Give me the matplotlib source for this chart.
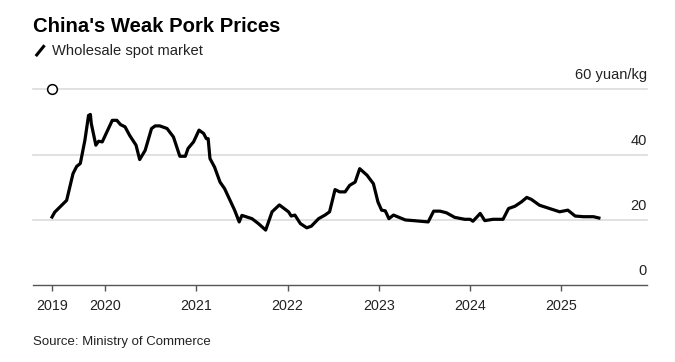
import matplotlib
matplotlib.use("Agg")
import matplotlib.pyplot as plt
from matplotlib.lines import Line2D
import matplotlib.transforms as mtransforms

plt.rcParams['font.family'] = ['Liberation Sans', 'DejaVu Sans']

# wholesale pork price, yuan/kg (decimal year, value)
t = [2019.42, 2019.45, 2019.58, 2019.65, 2019.69, 2019.73, 2019.78, 2019.82, 2019.84, 2019.85,
     2019.90, 2019.93, 2019.97, 2020.03, 2020.08, 2020.13, 2020.17, 2020.22, 2020.27, 2020.34,
     2020.38, 2020.44, 2020.51, 2020.55, 2020.60, 2020.68, 2020.75, 2020.82, 2020.88, 2020.91,
     2020.97, 2021.03, 2021.08, 2021.11, 2021.13, 2021.15, 2021.20, 2021.26, 2021.31, 2021.37,
     2021.42, 2021.47, 2021.50, 2021.61, 2021.68, 2021.76, 2021.83, 2021.91, 2022.01, 2022.04,
     2022.08, 2022.14, 2022.21, 2022.26, 2022.34, 2022.41, 2022.46, 2022.52, 2022.57, 2022.63,
     2022.68, 2022.74, 2022.79, 2022.87, 2022.94, 2022.99, 2023.03, 2023.07, 2023.11, 2023.16,
     2023.29, 2023.38, 2023.54, 2023.60, 2023.67, 2023.74, 2023.83, 2023.94, 2024.00, 2024.03,
     2024.07, 2024.11, 2024.16, 2024.25, 2024.36, 2024.42, 2024.49, 2024.56, 2024.62, 2024.67,
     2024.76, 2024.87, 2024.98, 2025.07, 2025.15, 2025.24, 2025.35, 2025.41]
price = [20.9, 22.4, 26.0, 34.2, 36.4, 37.3, 44.4, 52.0, 52.3, 49.5,
         42.9, 44.1, 43.9, 47.5, 50.5, 50.5, 49.2, 48.5, 45.9, 42.9,
         38.5, 41.3, 48.0, 48.8, 48.8, 48.0, 45.4, 39.5, 39.5, 41.9,
         43.9, 47.5, 46.5, 44.9, 44.9, 38.8, 36.2, 31.6, 29.6, 26.0,
         23.0, 19.4, 21.4, 20.4, 18.9, 16.9, 22.5, 24.6, 22.5, 21.2,
         21.5, 18.9, 17.6, 18.1, 20.4, 21.5, 22.5, 29.3, 28.6, 28.6,
         30.6, 31.6, 35.7, 33.7, 31.1, 25.5, 23.0, 22.8, 20.4, 21.5,
         20.0, 19.8, 19.4, 22.7, 22.7, 22.2, 20.8, 20.2, 20.2, 19.6,
         20.8, 22.0, 19.8, 20.2, 20.2, 23.5, 24.2, 25.5, 26.9, 26.3,
         24.5, 23.5, 22.5, 23.0, 21.2, 21.0, 21.0, 20.6]

xticks = [2019.42, 2020, 2021, 2022, 2023, 2024, 2025]
xlabels = ["2019", "2020", "2021", "2022", "2023", "2024", "2025"]
yticks = [0, 20, 40, 60]
ylabels = ["0", "20", "40", "60 yuan/kg"]

fig = plt.figure(figsize=(6.75, 3.62), dpi=100)
ax = fig.add_axes([0.0484, 0.2119, 0.9096, 0.5414])

ax.plot(t, price, color="black", lw=2.3, solid_joinstyle="round", zorder=3)
# hollow marker on the top gridline at the start of the series
ax.plot([t[0]], [60], marker="o", ms=7, mfc="white", mec="black", mew=1.1,
        clip_on=False, zorder=4)

ax.set_xlim(2019.208, 2025.933)
ax.set_ylim(0, 60)

for v in yticks[1:]:
    ax.axhline(v, color="#dcdcdc", lw=1.2, zorder=1, clip_on=False)

trans = mtransforms.blended_transform_factory(ax.transAxes, ax.transData)
for v, lab in zip(yticks, ylabels):
    ax.annotate(lab, xy=(1.0, v), xycoords=trans, xytext=(0, 10),
                textcoords="offset points", ha="right", va="center",
                fontsize=10.5, color="#222222")

for s in ["top", "right", "left"]:
    ax.spines[s].set_visible(False)
ax.spines["bottom"].set_color("#555555")
ax.spines["bottom"].set_linewidth(1.0)
ax.set_yticks([])
ax.set_xticks(xticks)
ax.set_xticklabels(xlabels, fontsize=10.3, color="#222222")
ax.tick_params(axis="x", length=4, width=1, color="#555555", pad=6)

fig.text(0.049, 0.928, "China's Weak Pork Prices", fontsize=14.6, fontweight="bold",
         ha="left", va="center", color="black")
fig.add_artist(Line2D([0.053, 0.066], [0.845, 0.875], color="black", lw=2.2,
                      solid_capstyle="butt"))
fig.text(0.077, 0.86, "Wholesale spot market", fontsize=10.6, ha="left", va="center",
         color="#222222")
fig.text(0.049, 0.055, "Source: Ministry of Commerce", fontsize=9.5, ha="left",
         va="center", color="#222222")

fig.savefig("out.png", dpi=100)
